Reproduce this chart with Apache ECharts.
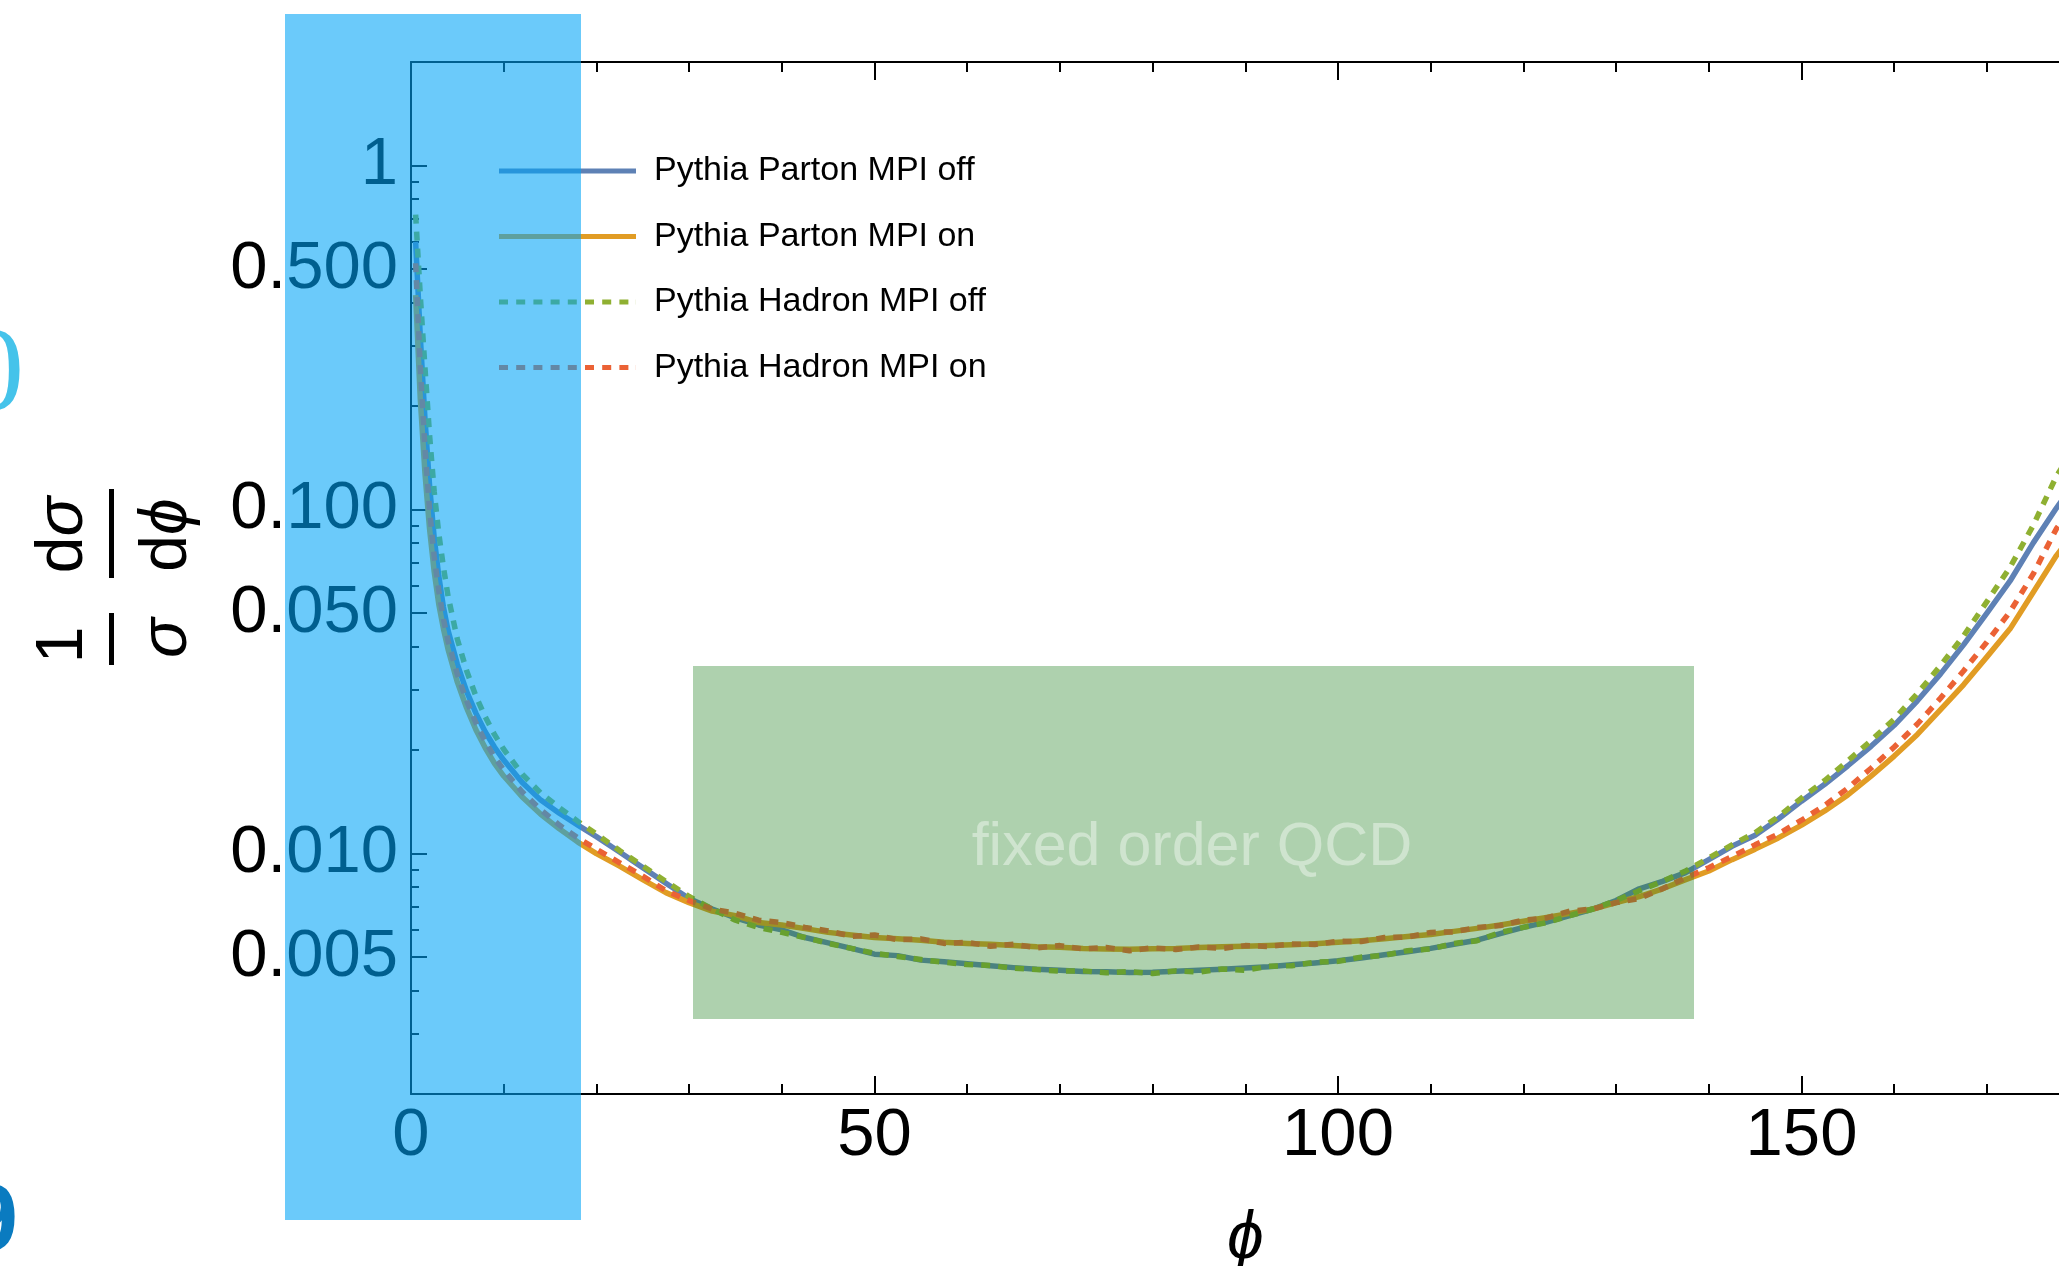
<!DOCTYPE html>
<html>
<head>
<meta charset="utf-8">
<script src="https://cdn.jsdelivr.net/npm/echarts@6/dist/echarts.min.js"></script>
<style>
  html, body { margin: 0; padding: 0; background: #ffffff; }
  #chart { width: 2059px; height: 1266px; }
</style>
</head>
<body>
<div id="chart"></div>
<script>
// Azimuthal angle phi (degrees) at which each distribution is sampled
const phi = [0.5, 1, 1.5, 2, 2.5, 3, 3.5, 4, 5, 6, 7, 8, 9, 10, 12, 14, 16, 18, 20,
  22.5, 25, 27.5, 30, 32.5, 35, 37.5, 40, 42.5, 45, 47.5, 50, 52.5, 55, 57.5, 60,
  62.5, 65, 67.5, 70, 72.5, 75, 77.5, 80, 82.5, 85, 87.5, 90, 92.5, 95, 97.5, 100,
  102.5, 105, 107.5, 110, 112.5, 115, 117.5, 120, 122.5, 125, 127.5, 130, 132.5,
  135, 137.5, 140, 142.5, 145, 147.5, 150, 152.5, 155, 157.5, 160, 162.5, 165,
  167.5, 170, 172.5, 175, 177.5, 180];

// 1/sigma dsigma/dphi
const partonMpiOff = [0.60, 0.32, 0.185, 0.118, 0.083, 0.064, 0.052, 0.0445, 0.0355, 0.0296,
  0.0256, 0.0226, 0.0204, 0.0187, 0.0161, 0.0143, 0.0131, 0.0121, 0.0112,
  0.0101, 0.0091, 0.0082, 0.0074, 0.0069, 0.0065, 0.0062, 0.0060, 0.0057, 0.0055, 0.0053,
  0.0051, 0.00505, 0.0049, 0.00485, 0.00478, 0.00472, 0.00466, 0.00461, 0.00458, 0.00454,
  0.00453, 0.00451, 0.00452, 0.00455, 0.00458, 0.00461, 0.00465, 0.00469, 0.00475, 0.00481,
  0.00488, 0.00497, 0.00508, 0.00518, 0.0053, 0.00545, 0.0056, 0.00585, 0.0061, 0.00632,
  0.0066, 0.0069, 0.0073, 0.0079, 0.0083, 0.0088, 0.0096, 0.0105, 0.0113, 0.0126,
  0.0142, 0.0159, 0.0180, 0.0205, 0.0236, 0.0278, 0.0333, 0.0405, 0.0500, 0.0620,
  0.0800, 0.1010, 0.1250];

const partonMpiOn = [0.42, 0.21, 0.128, 0.088, 0.066, 0.053, 0.045, 0.0392, 0.0315, 0.0265,
  0.0229, 0.0203, 0.0183, 0.0168, 0.0146, 0.0130, 0.0118, 0.0108, 0.0100,
  0.0092, 0.0084, 0.0077, 0.0072, 0.0068, 0.0066, 0.0063, 0.0062, 0.00605, 0.0059, 0.0058,
  0.0057, 0.00565, 0.0056, 0.00552, 0.00548, 0.00545, 0.0054, 0.00536, 0.00534, 0.0053,
  0.00528, 0.00527, 0.00529, 0.0053, 0.00533, 0.00536, 0.00538, 0.0054, 0.00543, 0.00547,
  0.00552, 0.00558, 0.00565, 0.00574, 0.00582, 0.00594, 0.00606, 0.0062, 0.00636, 0.00652,
  0.0067, 0.0069, 0.0072, 0.0075, 0.0079, 0.0084, 0.0089, 0.0096, 0.0103, 0.0111,
  0.0121, 0.0133, 0.0148, 0.0168, 0.0192, 0.0222, 0.0262, 0.0310, 0.0373, 0.0450,
  0.0575, 0.0735, 0.0900];

const hadronMpiOff = [0.72, 0.42, 0.26, 0.165, 0.113, 0.085, 0.068, 0.056, 0.042, 0.0340,
  0.0287, 0.0250, 0.0222, 0.0201, 0.0170, 0.0150, 0.0136, 0.0124, 0.0114,
  0.0102, 0.0092, 0.0083, 0.0075, 0.0069, 0.0064, 0.0061, 0.0059, 0.0057, 0.00548, 0.0053,
  0.00513, 0.00502, 0.00492, 0.00483, 0.00476, 0.00473, 0.00464, 0.0046, 0.00455, 0.00456,
  0.0045, 0.00454, 0.00448, 0.00456, 0.00452, 0.00462, 0.00458, 0.0047, 0.00472, 0.00483,
  0.00486, 0.0050, 0.00506, 0.00522, 0.00528, 0.00548, 0.00558, 0.0059, 0.0061, 0.0063,
  0.0066, 0.0069, 0.0073, 0.0078, 0.0083, 0.0089, 0.0097, 0.0106, 0.0115, 0.0128,
  0.0145, 0.0163, 0.0186, 0.0213, 0.0246, 0.0292, 0.0352, 0.0430, 0.0540, 0.0680,
  0.0900, 0.1250, 0.1600];

const hadronMpiOn = [0.52, 0.26, 0.152, 0.100, 0.073, 0.058, 0.048, 0.0415, 0.0332, 0.0278,
  0.0240, 0.0212, 0.0191, 0.0175, 0.0151, 0.0134, 0.0121, 0.0111, 0.0103,
  0.0094, 0.0086, 0.0078, 0.0073, 0.0069, 0.0067, 0.0064, 0.0063, 0.0061, 0.00596, 0.00575,
  0.0058, 0.00562, 0.00565, 0.00548, 0.00552, 0.00538, 0.00545, 0.00532, 0.0054, 0.00528,
  0.00533, 0.00522, 0.00532, 0.00526, 0.00535, 0.0053, 0.0054, 0.00537, 0.00546, 0.00544,
  0.00556, 0.00555, 0.0057, 0.00572, 0.0059, 0.00592, 0.0061, 0.00618, 0.0064, 0.0065,
  0.0068, 0.0069, 0.0072, 0.0074, 0.0079, 0.0085, 0.0091, 0.0098, 0.0106, 0.0114,
  0.0125, 0.0138, 0.0155, 0.0177, 0.0204, 0.0238, 0.0283, 0.0340, 0.0412, 0.0505,
  0.0650, 0.0880, 0.1080];

const seriesNames = ['Pythia Parton MPI off', 'Pythia Parton MPI on',
  'Pythia Hadron MPI off', 'Pythia Hadron MPI on'];

// Tick positions
const xMajorTicks = [0, 50, 100, 150];
const xMinorTicks = [10, 20, 30, 40, 60, 70, 80, 90, 110, 120, 130, 140, 160, 170];
const yMajorTicks = [0.005, 0.01, 0.05, 0.1, 0.5, 1];
const yMinorTicks = [0.003, 0.004, 0.006, 0.007, 0.008, 0.009, 0.02, 0.03, 0.04,
  0.06, 0.07, 0.08, 0.09, 0.2, 0.3, 0.4, 0.6, 0.7, 0.8, 0.9];

const FONT = "'Liberation Sans', Helvetica, Arial, sans-serif";
const COLORS = ['#5E81B5', '#E19C24', '#8FB032', '#EB6235'];
const DASH = [9, 8];
const LABEL_SIZE = 67;

// dashed legend sample: 8 dashes plus a hairline end marker keeping the full width
const dashIcon = 'path://' + [0, 17.2, 34.4, 51.6, 68.8, 86, 103.2, 120.4]
  .map(x => 'M' + x + ',0h9v5h-9z').join('') + 'M136.9,0h0.1v5h-0.1z';

const chart = echarts.init(document.getElementById('chart'), null, { renderer: 'canvas' });

const axisLine = { show: true, onZero: false, lineStyle: { color: '#000', width: 2 } };
const tickLine = { color: '#000', width: 2 };

function xAxisDef(position, ticks, len, showLine, withLabels) {
  const ax = {
    type: 'value', min: 0, max: 180, position: position,
    axisLine: showLine ? axisLine : { show: false },
    axisTick: { show: true, inside: true, length: len, customValues: ticks, lineStyle: tickLine },
    axisLabel: { show: false },
    splitLine: { show: false }
  };
  if (withLabels) {
    ax.axisLabel = { show: true, customValues: ticks, margin: 9, fontSize: LABEL_SIZE,
      fontFamily: FONT, color: '#000' };
    ax.name = 'ϕ';
    ax.nameLocation = 'middle';
    ax.nameGap = 113;
    ax.nameTextStyle = { fontSize: 66, fontStyle: 'italic', fontFamily: FONT, color: '#000' };
  }
  return ax;
}

function yAxisDef(ticks, len, showLine, withLabels) {
  const ax = {
    type: 'log', logBase: 10, min: 0.002, max: 2, position: 'left', offset: 0,
    axisLine: showLine ? axisLine : { show: false },
    axisTick: { show: true, inside: true, length: len, customValues: ticks, lineStyle: tickLine },
    axisLabel: { show: false },
    splitLine: { show: false }
  };
  if (withLabels) {
    ax.axisLabel = { show: true, customValues: ticks, margin: 13, fontSize: LABEL_SIZE,
      fontFamily: FONT, color: '#000',
      formatter: v => (v >= 0.9995 ? '1' : Number(v).toFixed(3)) };
  }
  return ax;
}

const seriesData = [partonMpiOff, partonMpiOn, hadronMpiOff, hadronMpiOn];

const option = {
  animation: false,
  backgroundColor: '#ffffff',
  grid: { left: 411, top: 62, width: 1668.6, height: 1032, outerBoundsMode: 'none', containLabel: false },
  xAxis: [
    xAxisDef('bottom', xMajorTicks, 18, true, true),
    xAxisDef('bottom', xMinorTicks, 10, false, false),
    xAxisDef('top', xMajorTicks, 18, true, false),
    xAxisDef('top', xMinorTicks, 10, false, false)
  ],
  yAxis: [
    yAxisDef(yMajorTicks, 16, true, true),
    yAxisDef(yMinorTicks, 8, false, false)
  ],
  legend: {
    orient: 'vertical', left: 494, top: 146,
    itemWidth: 137, itemHeight: 5, itemGap: 25.5,
    selectedMode: false,
    itemStyle: { borderWidth: 0 },
    textStyle: { fontSize: 34, fontFamily: FONT, color: '#000', lineHeight: 40, padding: [0, 0, 0, 13] },
    data: [
      { name: seriesNames[0], icon: 'rect' },
      { name: seriesNames[1], icon: 'rect' },
      { name: seriesNames[2], icon: dashIcon },
      { name: seriesNames[3], icon: dashIcon }
    ]
  },
  series: seriesData.map((vals, i) => ({
    type: 'line',
    name: seriesNames[i],
    xAxisIndex: 0, yAxisIndex: 0,
    data: phi.map((p, k) => [p, vals[k]]),
    symbol: 'none', showSymbol: false,
    z: 2 + i,
    itemStyle: { color: COLORS[i] },
    lineStyle: { color: COLORS[i], width: 5.5, type: i < 2 ? 'solid' : DASH, cap: 'butt', join: 'round' }
  })),
  graphic: {
    elements: [
      // y-axis title: (1/sigma) (d sigma / d phi), set vertically
      { type: 'text', x: 64, y: 645, rotation: Math.PI / 2, z: 50,
        style: { text: '1', fill: '#000', fontSize: 66, fontFamily: FONT, align: 'center', verticalAlign: 'middle' } },
      { type: 'rect', shape: { x: 109, y: 613, width: 5, height: 52 }, style: { fill: '#000' }, z: 50 },
      { type: 'text', x: 168, y: 638, rotation: Math.PI / 2, z: 50,
        style: { text: 'σ', fill: '#000', fontSize: 66, fontStyle: 'italic', fontFamily: FONT, align: 'center', verticalAlign: 'middle' } },
      { type: 'text', x: 64, y: 535, rotation: Math.PI / 2, z: 50,
        style: { text: '{u|d}{i|σ}', fill: '#000', fontSize: 66, fontFamily: FONT, align: 'center', verticalAlign: 'middle',
          rich: { u: { fontSize: 66, fontFamily: FONT, fill: '#000' },
                  i: { fontSize: 66, fontFamily: FONT, fontStyle: 'italic', fill: '#000' } } } },
      { type: 'rect', shape: { x: 109, y: 489, width: 5, height: 89 }, style: { fill: '#000' }, z: 50 },
      { type: 'text', x: 168, y: 535, rotation: Math.PI / 2, z: 50,
        style: { text: '{u|d}{i|ϕ}', fill: '#000', fontSize: 66, fontFamily: FONT, align: 'center', verticalAlign: 'middle',
          rich: { u: { fontSize: 66, fontFamily: FONT, fill: '#000' },
                  i: { fontSize: 66, fontFamily: FONT, fontStyle: 'italic', fill: '#000' } } } },

      // glyphs cut at the left edge of the slide
      { type: 'text', x: 24, y: 378, z: 50,
        style: { text: '0', fill: '#45C3EA', fontSize: 118, fontFamily: "'Liberation Serif', 'Times New Roman', serif",
          align: 'right', verticalAlign: 'middle' } },
      { type: 'text', x: 18, y: 1224, z: 50,
        style: { text: '9', fill: '#0A7BC0', fontSize: 95, fontWeight: 'bold', fontFamily: FONT,
          align: 'right', verticalAlign: 'middle' } },

      // fixed-order QCD region
      { type: 'rect', shape: { x: 693, y: 666, width: 1001, height: 353 },
        style: { fill: 'rgba(42,134,42,0.38)' }, z: 100 },
      { type: 'text', x: 1192, y: 848, z: 101,
        style: { text: 'fixed order QCD', fill: '#CFE4CF', fontSize: 61, fontFamily: FONT,
          align: 'center', verticalAlign: 'middle' } },

      // highlighted small-angle band
      { type: 'rect', shape: { x: 285, y: 14, width: 296, height: 1206 },
        style: { fill: 'rgba(0,164,246,0.58)' }, z: 100 }
    ]
  }
};

chart.setOption(option);
</script>
</body>
</html>
